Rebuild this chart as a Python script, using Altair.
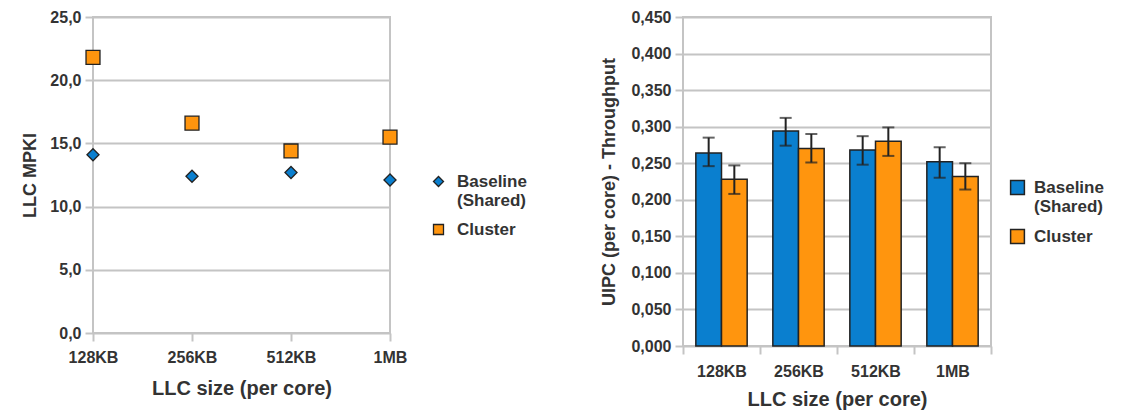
import altair as alt
import pandas as pd

sizes = ["128KB", "256KB", "512KB", "1MB"]
series = ["Baseline (Shared)", "Cluster"]
colors = ["#0a7fcf", "#ff950e"]

mpki_baseline = [14.1, 12.4, 12.7, 12.1]
mpki_cluster = [21.8, 16.6, 14.4, 15.5]

uipc_baseline = [0.264, 0.294, 0.268, 0.252]
uipc_cluster = [0.228, 0.270, 0.280, 0.232]
uipc_baseline_lo = [0.246, 0.274, 0.248, 0.230]
uipc_baseline_hi = [0.285, 0.312, 0.287, 0.272]
uipc_cluster_lo = [0.208, 0.251, 0.260, 0.214]
uipc_cluster_hi = [0.247, 0.290, 0.299, 0.250]

mpki_ticks = [0, 5, 10, 15, 20, 25]
uipc_ticks = [0, 0.05, 0.1, 0.15, 0.2, 0.25, 0.3, 0.35, 0.4, 0.45]

df1 = pd.DataFrame({
    "size": sizes * 2,
    "series": [series[0]] * 4 + [series[1]] * 4,
    "mpki": mpki_baseline + mpki_cluster,
})
df2 = pd.DataFrame({
    "size": sizes * 2,
    "series": [series[0]] * 4 + [series[1]] * 4,
    "uipc": uipc_baseline + uipc_cluster,
    "lo": uipc_baseline_lo + uipc_cluster_lo,
    "hi": uipc_baseline_hi + uipc_cluster_hi,
})

FONT = "Liberation Sans"
TXT = "#333333"
GRID = "#c4c4c4"
label_expr = "datum.label == 'Baseline (Shared)' ? ['Baseline', '(Shared)'] : datum.label"

color_scale = alt.Scale(domain=series, range=colors)

left_legend = dict(title=None, labelExpr=label_expr, symbolSize=100,
                   symbolStrokeColor="#222222", symbolStrokeWidth=1.3,
                   labelFontSize=17, orient="none", legendX=337, legendY=156,
                   rowPadding=11, labelOffset=10)

# ---- Left chart: LLC MPKI
left = alt.Chart(df1).mark_point(filled=True, stroke="#222222", strokeWidth=1.3, opacity=1).encode(
    x=alt.X("size:N", sort=sizes, scale=alt.Scale(type="point", padding=0),
            axis=alt.Axis(title="LLC size (per core)", labelAngle=0, grid=False,
                          domain=False, tickColor=GRID, tickWidth=2, tickSize=8,
                          labelPadding=8, titlePadding=13, labelFontSize=16,
                          titleFontSize=20)),
    y=alt.Y("mpki:Q", scale=alt.Scale(domain=[0, 25], nice=False),
            axis=alt.Axis(title="LLC MPKI", values=mpki_ticks, domain=False,
                          gridColor=GRID, gridWidth=2, tickColor=GRID, tickWidth=2,
                          tickSize=8, labelPadding=4, titlePadding=10,
                          labelFontSize=16, titleFontSize=18, labelOverlap=False,
                          labelExpr="replace(format(datum.value, '.1f'), '.', ',')")),
    color=alt.Color("series:N", scale=color_scale, legend=alt.Legend(**left_legend)),
    shape=alt.Shape("series:N", scale=alt.Scale(domain=series, range=["diamond", "square"]),
                    legend=alt.Legend(**left_legend)),
    size=alt.condition(alt.datum.series == "Cluster", alt.value(195), alt.value(145)),
).properties(width=297, height=316)

# ---- Right chart: UIPC
x_enc = alt.X("size:N", sort=sizes, scale=alt.Scale(paddingInner=0, paddingOuter=0),
              axis=alt.Axis(title="LLC size (per core)", labelAngle=0, grid=False,
                            domain=False, tickBand="extent", tickColor=GRID, tickWidth=2,
                            tickSize=8, labelPadding=9, titlePadding=10,
                            labelFontSize=16, titleFontSize=20))
xoff = alt.XOffset("series:N", sort=series, scale=alt.Scale(paddingOuter=0.5, paddingInner=0))
y_axis = alt.Axis(title="UIPC (per core) - Throughput", values=uipc_ticks,
                  domain=False, gridColor=GRID, gridWidth=2, tickColor=GRID,
                  tickWidth=2, tickSize=8, labelPadding=4, titlePadding=12,
                  labelFontSize=16, titleFontSize=18, labelOverlap=False,
                  labelExpr="replace(format(datum.value, '.3f'), '.', ',')")
y_scale = alt.Scale(domain=[0, 0.45], nice=False)

bars = alt.Chart(df2).mark_bar(stroke="#222222", strokeWidth=1.5).encode(
    x=x_enc,
    xOffset=xoff,
    y=alt.Y("uipc:Q", scale=y_scale, axis=y_axis),
    color=alt.Color("series:N", scale=color_scale,
                    legend=alt.Legend(title=None, labelExpr=label_expr, symbolType="square",
                                      symbolSize=190, symbolStrokeColor="#222222",
                                      symbolStrokeWidth=1.5, labelFontSize=17,
                                      orient="none", legendX=326, legendY=162,
                                      rowPadding=11, labelOffset=8)),
)
err = alt.Chart(df2).mark_rule(color="#222222", strokeWidth=2).encode(
    x=x_enc, xOffset=xoff, y=alt.Y("lo:Q", scale=y_scale, axis=y_axis), y2="hi:Q")
cap_lo = alt.Chart(df2).mark_tick(color="#222222", thickness=2, size=12).encode(
    x=x_enc, xOffset=xoff, y=alt.Y("lo:Q", scale=y_scale, axis=y_axis))
cap_hi = alt.Chart(df2).mark_tick(color="#222222", thickness=2, size=12).encode(
    x=x_enc, xOffset=xoff, y=alt.Y("hi:Q", scale=y_scale, axis=y_axis))

right = alt.layer(bars, err, cap_lo, cap_hi).properties(width=308, height=329)

chart = alt.hconcat(left, right, spacing=71).resolve_scale(
    color="independent", shape="independent", x="independent", y="independent"
).resolve_legend(color="independent", shape="independent").configure(
    font=FONT,
    padding={"left": 20, "top": 8, "right": 5, "bottom": 5},
).configure_view(
    stroke=GRID, strokeWidth=2
).configure_axis(
    labelFont=FONT, titleFont=FONT, labelColor=TXT, titleColor=TXT,
    labelFontWeight="bold", titleFontWeight="bold"
).configure_legend(
    labelFont=FONT, labelColor=TXT, labelFontWeight="bold"
)

chart.save("out.html", embed_options={"renderer": "svg", "actions": False})
